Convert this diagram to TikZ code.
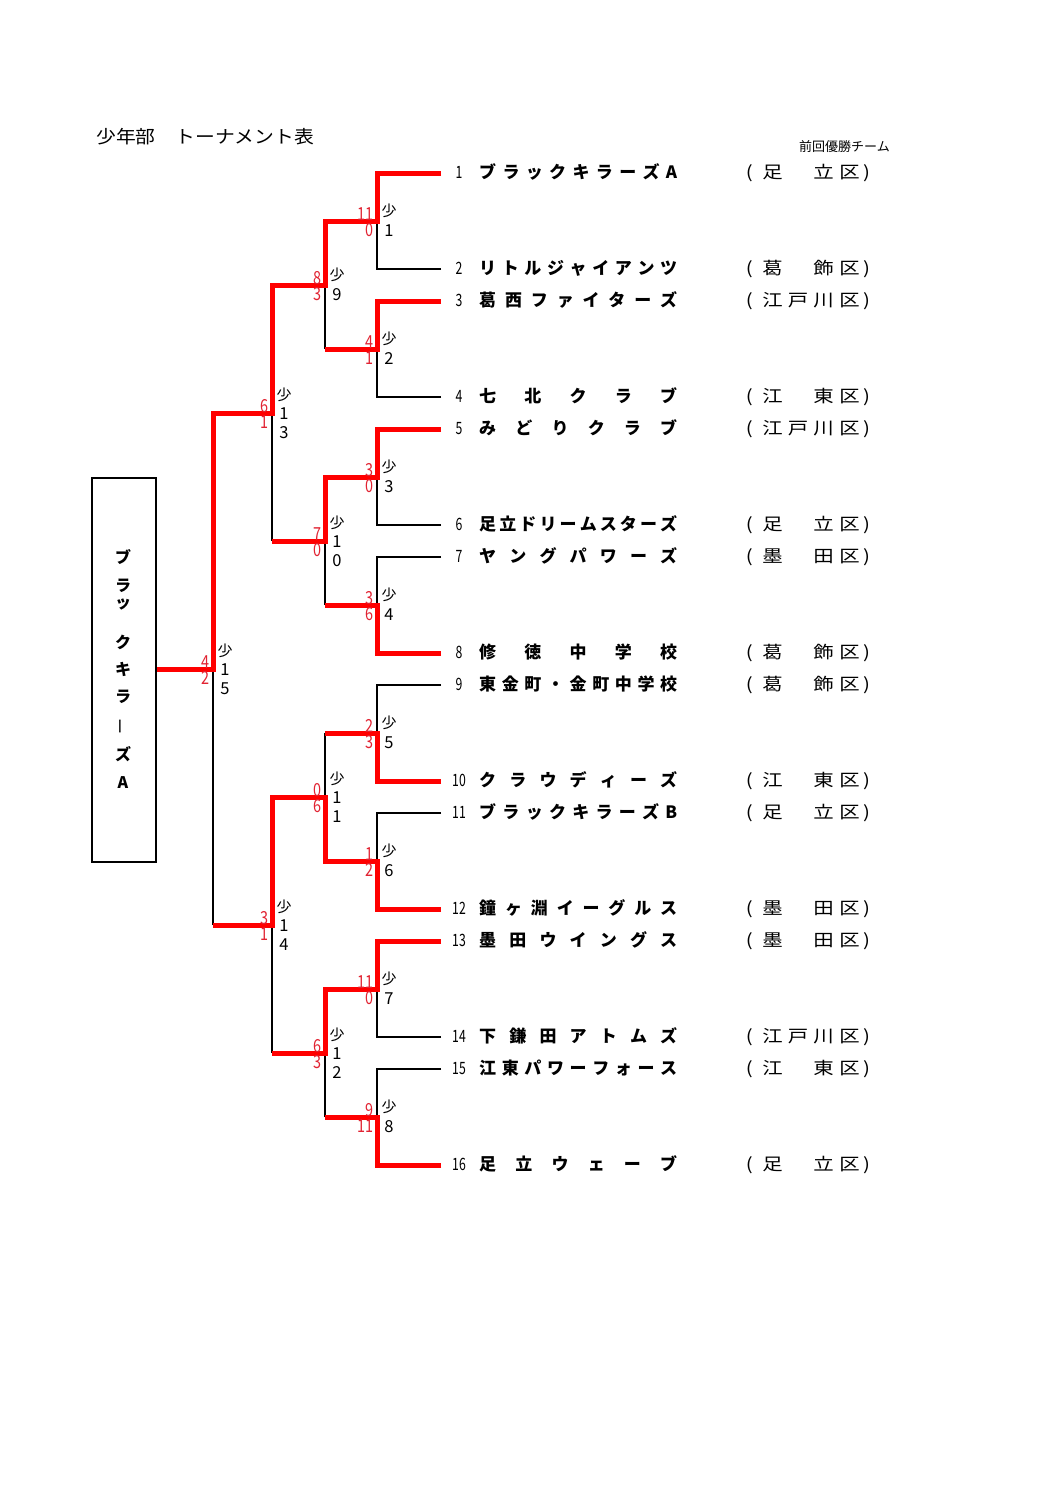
\documentclass[tikz,border=0pt]{standalone}
\usepackage{fontspec}
\setmainfont{Noto Sans CJK JP}
\newfontfamily\widefont[FakeStretch=1.2]{Noto Sans CJK JP}
\newfontfamily\titlefont[FakeStretch=1.1]{Noto Sans CJK JP}
\newfontfamily\narrowfont[FakeStretch=0.72]{Noto Sans CJK JP}
\newfontfamily\scorefont[FakeStretch=0.8]{Noto Sans CJK JP}
\usetikzlibrary{calc}
\definecolor{scorered}{RGB}{225,35,50}
\newcommand{\ku}[3]{\llap{(\hspace{7pt}}\makebox[25.5pt]{#1}\makebox[25.5pt]{#2}\makebox[25.5pt]{#3}\makebox[27pt]{区})}
\newcommand{\team}[5]{%
    \node[teamno] (no#1) at ($(t#1)+(18,5.5)$) {#1};
    \node[teamname] (name#1) at ($(t#1)+(38,5.5)$) {\makebox[198pt][s]{#2}};
    \node[ward] (ku#1) at ($(t#1)+(318.5,5.5)$) {\ku{#3}{#4}{#5}};
}
\newcommand{\result}[4]{%
    \node[score] (#1top) at ($(#1)+(-3,-0.5)$) {#2};
    \node[score] (#1bot) at ($(#1)+(-3,15.5)$) {#3};
    \node[sho] (#1sho) at ($(#1)+(12,-4.3)$) {少};
    \node[matchno] (#1no) at ($(#1)+(12,15.5)$) {#4};
}
\newcommand{\resultx}[5]{%
    \node[score] (#1top) at ($(#1)+(-3,-0.5)$) {#2};
    \node[score] (#1bot) at ($(#1)+(-3,15.5)$) {#3};
    \node[sho] (#1sho) at ($(#1)+(12,-12.3)$) {少};
    \node[matchno] (#1noa) at ($(#1)+(12,6.5)$) {#4};
    \node[matchno] (#1nob) at ($(#1)+(12,25)$) {#5};
}

\begin{document}
\begin{tikzpicture}[x=1pt, y=-1pt,
        win/.style={draw=red, line width=5pt},
        lose/.style={draw=black, line width=1.6pt},
        teamno/.style={anchor=base, inner sep=0pt, font=\narrowfont\fontsize{17}{17}\selectfont},
        teamname/.style={anchor=base west, inner sep=0pt, font=\bfseries\fontsize{17}{17}\selectfont},
        ward/.style={anchor=base west, inner sep=0pt, font=\widefont\fontsize{17}{17}\selectfont},
        score/.style={anchor=base east, inner sep=0pt, text=scorered, font=\scorefont\fontsize{18}{18}\selectfont},
        sho/.style={anchor=base, inner sep=0pt, font=\fontsize{15}{15}\selectfont},
        matchno/.style={anchor=base, inner sep=0pt, font=\fontsize{16.5}{16.5}\selectfont},
        letter/.style={inner sep=0pt, font=\bfseries\fontsize{16}{16}\selectfont, text height=13.5pt, text depth=2pt}]
                %\draw[help lines] (0,0) grid (1058,1497);
                \useasboundingbox (0,0) rectangle (1058,1497);

                \node[anchor=base west, inner sep=0pt, font=\titlefont\fontsize{18}{18}\selectfont] (title) at (96,143) {少年部　トーナメント表};
                \node[anchor=base west, inner sep=0pt, font=\fontsize{13}{13}\selectfont] (prev) at (799,151) {前回優勝チーム};

                % team lines
                \coordinate (t1) at (441,173);
                \coordinate (t2) at (441,269);
                \coordinate (t3) at (441,301);
                \coordinate (t4) at (441,397);
                \coordinate (t5) at (441,429);
                \coordinate (t6) at (441,525);
                \coordinate (t7) at (441,557);
                \coordinate (t8) at (441,653);
                \coordinate (t9) at (441,685);
                \coordinate (t10) at (441,781);
                \coordinate (t11) at (441,813);
                \coordinate (t12) at (441,909);
                \coordinate (t13) at (441,941);
                \coordinate (t14) at (441,1037);
                \coordinate (t15) at (441,1069);
                \coordinate (t16) at (441,1165);

                % matches
                \coordinate (m1) at (377,221);
                \coordinate (m2) at (377,349);
                \coordinate (m3) at (377,477);
                \coordinate (m4) at (377,605);
                \coordinate (m5) at (377,733);
                \coordinate (m6) at (377,861);
                \coordinate (m7) at (377,989);
                \coordinate (m8) at (377,1117);
                \coordinate (m9) at (325,285);
                \coordinate (m10) at (325,541);
                \coordinate (m11) at (325,797);
                \coordinate (m12) at (325,1053);
                \coordinate (m13) at (272,413);
                \coordinate (m14) at (272,925);
                \coordinate (m15) at (213,669);

                \node[draw, line width=1.6pt, minimum width=64pt, minimum height=384pt, inner sep=0pt] (champ) at (124,670) {};
                \node[letter] (v1) at (123,558) {ブ};
                \node[letter] (v2) at (123,586) {ラ};
                \node[letter] (v3) at (123,603) {ッ};
                \node[letter] (v4) at (123,643) {ク};
                \node[letter] (v5) at (123,670) {キ};
                \node[letter] (v6) at (123,697) {ラ};
                \node[letter] (v7) at (123,724) {\rotatebox[origin=c]{90}{\mdseries ー}};
                \node[letter] (v8) at (123,755) {ズ};
                \node[letter] (v9) at (123,783) {A};

                % losers
                \draw[lose] (t2) -| (m1);
                \draw[lose] (t4) -| (m2);
                \draw[lose] (t6) -| (m3);
                \draw[lose] (t7) -| (m4);
                \draw[lose] (t9) -| (m5);
                \draw[lose] (t11) -| (m6);
                \draw[lose] (t14) -| (m7);
                \draw[lose] (t15) -| (m8);
                \draw[lose] (m2 -| m9) -- (m9);
                \draw[lose] (m4 -| m10) -- (m10);
                \draw[lose] (m5 -| m11) -- (m11);
                \draw[lose] (m8 -| m12) -- (m12);
                \draw[lose] (m10 -| m13) -- (m13);
                \draw[lose] (m12 -| m14) -- (m14);
                \draw[lose] (m14 -| m15) -- (m15);

                % winners
                \draw[win] (t1) -| (m1) -| (m9) -| (m13) -| (m15) -- (m15 -| champ.east);
                \draw[win] (t3) -| (m2) -- (m2 -| m9);
                \draw[win] (t5) -| (m3) -| (m10) -- (m10 -| m13);
                \draw[win] (t8) -| (m4) -- (m4 -| m10);
                \draw[win] (t10) -| (m5) -- (m5 -| m11);
                \draw[win] (t12) -| (m6) -| (m11) -| (m14) -- (m14 -| m15);
                \draw[win] (t13) -| (m7) -| (m12) -- (m12 -| m14);
                \draw[win] (t16) -| (m8) -- (m8 -| m12);

                \result{m1}{11}{0}{1}
                \result{m2}{4}{1}{2}
                \result{m3}{3}{0}{3}
                \result{m4}{3}{6}{4}
                \result{m5}{2}{3}{5}
                \result{m6}{1}{2}{6}
                \result{m7}{11}{0}{7}
                \result{m8}{9}{11}{8}
                \result{m9}{8}{3}{9}
                \resultx{m10}{7}{0}{1}{0}
                \resultx{m11}{0}{6}{1}{1}
                \resultx{m12}{6}{3}{1}{2}
                \resultx{m13}{6}{1}{1}{3}
                \resultx{m14}{3}{1}{1}{4}
                \resultx{m15}{4}{2}{1}{5}

                \team{1}{ブ ラ ッ ク キ ラ ー ズ A}{足}{}{立}
                \team{2}{リ ト ル ジ ャ イ ア ン ツ}{葛}{}{飾}
                \team{3}{葛 西 フ ァ イ タ ー ズ}{江}{戸}{川}
                \team{4}{七 北 ク ラ ブ}{江}{}{東}
                \team{5}{み ど り ク ラ ブ}{江}{戸}{川}
                \team{6}{足 立 ド リ ー ム ス タ ー ズ}{足}{}{立}
                \team{7}{ヤ ン グ パ ワ ー ズ}{墨}{}{田}
                \team{8}{修 徳 中 学 校}{葛}{}{飾}
                \team{9}{東 金 町 ・ 金 町 中 学 校}{葛}{}{飾}
                \team{10}{ク ラ ウ デ ィ ー ズ}{江}{}{東}
                \team{11}{ブ ラ ッ ク キ ラ ー ズ B}{足}{}{立}
                \team{12}{鐘 ヶ 淵 イ ー グ ル ス}{墨}{}{田}
                \team{13}{墨 田 ウ イ ン グ ス}{墨}{}{田}
                \team{14}{下 鎌 田 ア ト ム ズ}{江}{戸}{川}
                \team{15}{江 東 パ ワ ー フ ォ ー ス}{江}{}{東}
                \team{16}{足 立 ウ ェ ー ブ}{足}{}{立}

\end{tikzpicture}
\end{document}
